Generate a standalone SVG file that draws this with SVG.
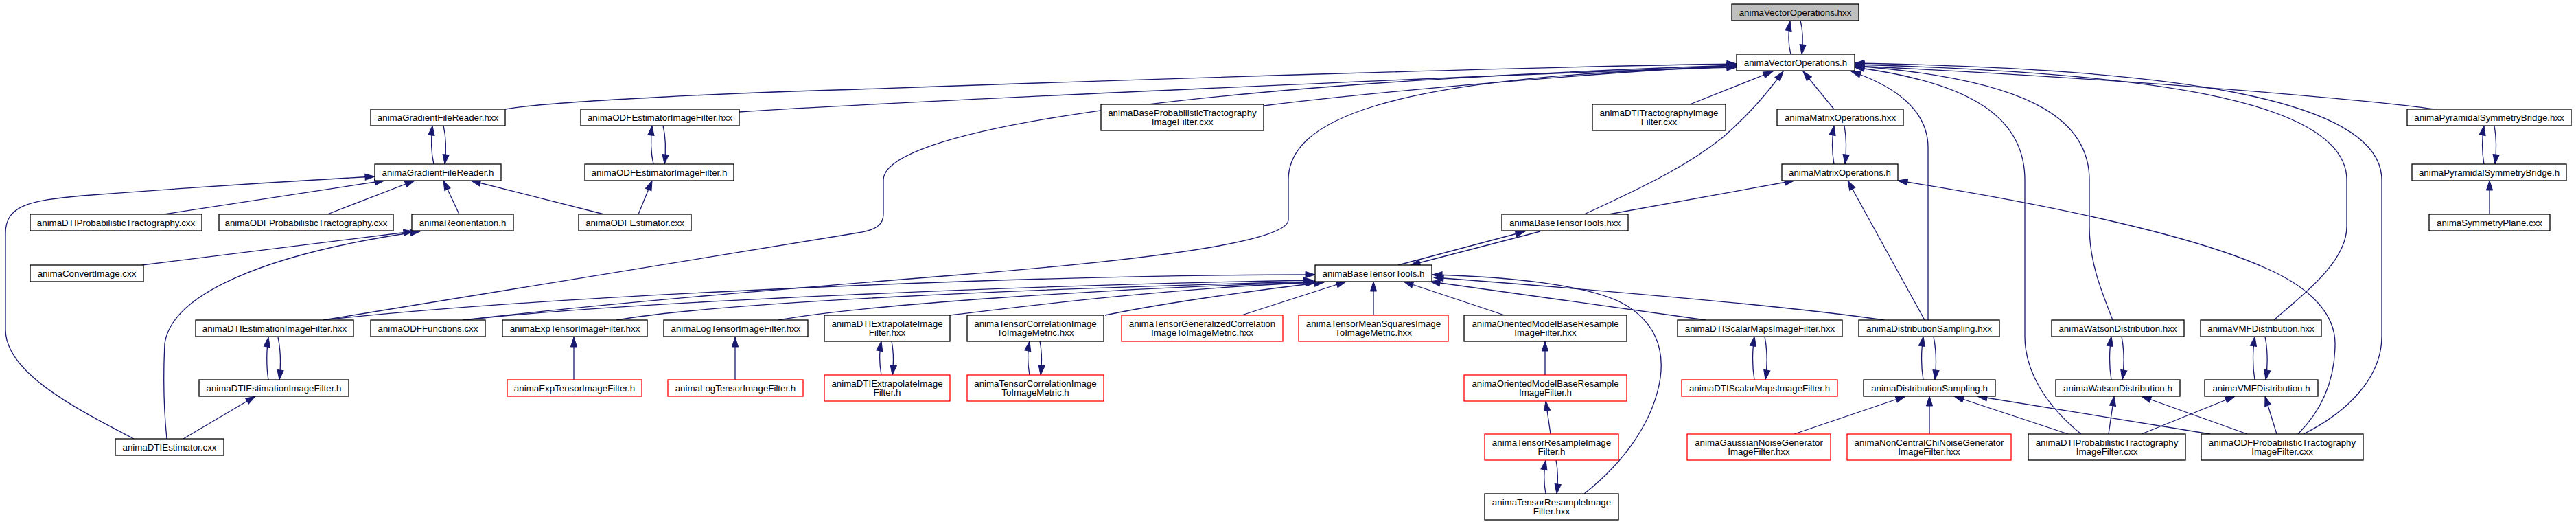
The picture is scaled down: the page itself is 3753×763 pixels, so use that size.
<svg xmlns="http://www.w3.org/2000/svg" width="3753" height="763" viewBox="0 0 3753 763">
<style>
.b{fill:#fff;stroke:#000;stroke-width:1.3}
.r{fill:#fff;stroke:#ff0000;stroke-width:1.3}
.g{fill:#bfbfbf;stroke:#000;stroke-width:1.3}
.t{font-family:"Liberation Sans",Arial,sans-serif;font-size:13.33px;text-anchor:middle;fill:#000}
.e path{fill:none;stroke:#191970;stroke-width:1.3;marker-end:url(#a)}
</style>
<defs>
<marker id="a" viewBox="0 0 14 10" refX="14" refY="5" markerWidth="14" markerHeight="10" markerUnits="userSpaceOnUse" orient="auto" overflow="visible"><path d="M0,0.4 L14,5 L0,9.6 Z" fill="#191970" stroke="#191970" stroke-width="1"/></marker>
</defs>
<rect width="3753" height="763" fill="#fff"/>
<g id="edges" class="e">
<path d="M2609,79 C2605,64 2605,48 2608,31"/>
<path d="M2623,30 C2627,45 2627,62 2625,79"/>
<path d="M736,159 C800,147 1100,134 1251,130 C1700,114 2250,97 2530,93"/>
<path d="M1077,163 C1300,148 2200,108 2530,97"/>
<path d="M1841,154 C2000,134 2300,108 2530,95"/>
<path d="M471,466 L1250,339 C1275,335 1287,328 1287,312 L1287,262 C1287,195 1650,125 2530,95"/>
<path d="M674,466 C900,440 1150,420 1400,400 C1700,376 1877,350 1877,320 L1877,262 C1877,180 2000,110 2530,98"/>
<path d="M2462,152 L2583,104"/>
<path d="M2308,312 C2400,270 2460,240 2510,200 C2550,165 2575,135 2598,104"/>
<path d="M2672,159 L2627,104"/>
<path d="M2809,466 L2809,215 C2809,160 2760,125 2697,104"/>
<path d="M3032,632 C2980,590 2950,540 2950,490 L2950,262 C2950,170 2870,120 2702,98"/>
<path d="M3078,466 C3060,420 3044,380 3044,330 L3044,262 C3044,170 2950,115 2702,96"/>
<path d="M3313,466 C3360,425 3419,380 3419,330 L3419,262 C3419,140 3100,105 2702,94"/>
<path d="M3356,632 C3420,600 3470,550 3470,490 L3470,262 C3470,140 3150,100 2702,92"/>
<path d="M3547,159 C3450,145 3100,115 2702,96"/>
<path d="M632,239 C628,222 628,200 630,183"/>
<path d="M646,183 C650,200 650,222 648,239"/>
<path d="M239,312 L560,263"/>
<path d="M477,312 L604,263"/>
<path d="M669,312 L646,263"/>
<path d="M880,312 L686,263"/>
<path d="M195,639 C100,590 8,540 8,480 L8,340 C8,300 40,292 120,285 C250,275 400,265 546,257"/>
<path d="M930,312 L950,263"/>
<path d="M952,239 C948,222 948,200 950,183"/>
<path d="M966,183 C970,200 970,222 968,239"/>
<path d="M207,386 L602,337"/>
<path d="M243,639 C238,590 238,540 240,500 C250,430 380,370 612,337"/>
<path d="M391,553 C388,535 388,510 391,491"/>
<path d="M405,491 C409,510 409,535 407,553"/>
<path d="M267,639 L372,577"/>
<path d="M836,553 L836,491"/>
<path d="M1071,553 L1071,491"/>
<path d="M1284,546 C1281,530 1281,512 1284,497"/>
<path d="M1299,497 C1302,512 1302,530 1300,546"/>
<path d="M1500,546 C1497,530 1497,512 1500,497"/>
<path d="M1515,497 C1518,512 1518,530 1516,546"/>
<path d="M2251,546 L2251,497"/>
<path d="M2259,632 L2252,584"/>
<path d="M2252,719 C2249,703 2249,686 2252,670"/>
<path d="M2267,670 C2270,686 2270,703 2268,719"/>
<path d="M2308,719 C2370,670 2410,610 2419,550 C2425,505 2410,470 2370,445 C2320,415 2200,403 2087,400"/>
<path d="M2556,553 C2553,535 2553,510 2556,490"/>
<path d="M2571,490 C2575,510 2575,535 2572,553"/>
<path d="M2802,553 C2799,535 2799,510 2802,490"/>
<path d="M2817,490 C2821,510 2821,535 2819,553"/>
<path d="M3076,553 C3073,535 3073,510 3076,490"/>
<path d="M3091,490 C3095,510 3095,535 3092,553"/>
<path d="M3285,553 C3282,535 3282,510 3285,490"/>
<path d="M3300,490 C3304,510 3304,535 3301,553"/>
<path d="M2614,632 L2776,577"/>
<path d="M2811,632 L2811,577"/>
<path d="M3013,632 L2847,577"/>
<path d="M3220,632 L2881,577"/>
<path d="M3072,632 L3080,577"/>
<path d="M3274,632 L3120,577"/>
<path d="M3120,632 L3256,577"/>
<path d="M3317,632 L3300,577"/>
<path d="M2672,239 C2669,222 2669,200 2672,183"/>
<path d="M2687,183 C2690,200 2690,222 2688,239"/>
<path d="M2344,312 L2614,263"/>
<path d="M2804,466 L2692,263"/>
<path d="M3348,632 C3385,595 3402,550 3402,500 C3402,460 3370,420 3300,390 C3200,345 3000,300 2765,263"/>
<path d="M3619,239 C3616,222 3616,200 3619,183"/>
<path d="M3634,183 C3637,200 3637,222 3635,239"/>
<path d="M3627,312 L3627,263"/>
<path d="M2037,386 L2222,337"/>
<path d="M2244,337 L2055,386"/>
<path d="M471,466 C800,430 1500,400 1916,400"/>
<path d="M678,466 C900,440 1500,415 1913,408"/>
<path d="M898,466 C1050,440 1500,420 1916,410"/>
<path d="M1134,466 C1250,445 1600,420 1917,411"/>
<path d="M1384,459 C1500,445 1700,420 1918,411"/>
<path d="M1610,459 C1700,440 1850,420 1929,411"/>
<path d="M1809,459 L1961,410"/>
<path d="M2001,459 L2001,410"/>
<path d="M2192,459 L2045,410"/>
<path d="M2485,466 L2084,410"/>
<path d="M2745,466 C2600,445 2300,420 2089,404"/>
</g>
<g id="n0"><rect class="g" x="2523" y="6" width="185" height="24"/><text class="t" x="2615.5" y="23">animaVectorOperations.hxx</text></g>
<g id="n1"><rect class="b" x="2530" y="79" width="172" height="24"/><text class="t" x="2616" y="96">animaVectorOperations.h</text></g>
<g id="n2"><rect class="b" x="540" y="159" width="196" height="24"/><text class="t" x="638" y="176">animaGradientFileReader.hxx</text></g>
<g id="n3"><rect class="b" x="846" y="159" width="231" height="24"/><text class="t" x="961.5" y="176">animaODFEstimatorImageFilter.hxx</text></g>
<g id="n4"><rect class="b" x="1604" y="152" width="237" height="38"/><text class="t" x="1722.5" y="168.5">animaBaseProbabilisticTractography</text><text class="t" x="1722.5" y="182">ImageFilter.cxx</text></g>
<g id="n5"><rect class="b" x="2320" y="152" width="194" height="38"/><text class="t" x="2417" y="168.5">animaDTITractographyImage</text><text class="t" x="2417" y="182">Filter.cxx</text></g>
<g id="n6"><rect class="b" x="2589" y="159" width="184" height="24"/><text class="t" x="2681" y="176">animaMatrixOperations.hxx</text></g>
<g id="n7"><rect class="b" x="3507" y="159" width="239" height="24"/><text class="t" x="3626.5" y="176">animaPyramidalSymmetryBridge.hxx</text></g>
<g id="n8"><rect class="b" x="546" y="239" width="184" height="24"/><text class="t" x="638" y="256">animaGradientFileReader.h</text></g>
<g id="n9"><rect class="b" x="852" y="239" width="217" height="24"/><text class="t" x="960.5" y="256">animaODFEstimatorImageFilter.h</text></g>
<g id="n10"><rect class="b" x="2596" y="239" width="169" height="24"/><text class="t" x="2680.5" y="256">animaMatrixOperations.h</text></g>
<g id="n11"><rect class="b" x="3514" y="239" width="225" height="24"/><text class="t" x="3626.5" y="256">animaPyramidalSymmetryBridge.h</text></g>
<g id="n12"><rect class="b" x="44" y="312" width="250" height="24"/><text class="t" x="169" y="329">animaDTIProbabilisticTractography.cxx</text></g>
<g id="n13"><rect class="b" x="319" y="312" width="254" height="24"/><text class="t" x="446" y="329">animaODFProbabilisticTractography.cxx</text></g>
<g id="n14"><rect class="b" x="600" y="312" width="148" height="24"/><text class="t" x="674" y="329">animaReorientation.h</text></g>
<g id="n15"><rect class="b" x="843" y="312" width="164" height="24"/><text class="t" x="925" y="329">animaODFEstimator.cxx</text></g>
<g id="n16"><rect class="b" x="2188" y="312" width="184" height="24"/><text class="t" x="2280" y="329">animaBaseTensorTools.hxx</text></g>
<g id="n17"><rect class="b" x="3539" y="312" width="176" height="24"/><text class="t" x="3627" y="329">animaSymmetryPlane.cxx</text></g>
<g id="n18"><rect class="b" x="44" y="386" width="165" height="24"/><text class="t" x="126.5" y="403">animaConvertImage.cxx</text></g>
<g id="n19"><rect class="b" x="1916" y="386" width="170" height="24"/><text class="t" x="2001" y="403">animaBaseTensorTools.h</text></g>
<g id="n20"><rect class="b" x="285" y="466" width="230" height="24"/><text class="t" x="400" y="483">animaDTIEstimationImageFilter.hxx</text></g>
<g id="n21"><rect class="b" x="540" y="466" width="167" height="24"/><text class="t" x="623.5" y="483">animaODFFunctions.cxx</text></g>
<g id="n22"><rect class="b" x="732" y="466" width="211" height="24"/><text class="t" x="837.5" y="483">animaExpTensorImageFilter.hxx</text></g>
<g id="n23"><rect class="b" x="967" y="466" width="210" height="24"/><text class="t" x="1072" y="483">animaLogTensorImageFilter.hxx</text></g>
<g id="n24"><rect class="b" x="1201" y="459" width="183" height="38"/><text class="t" x="1292.5" y="475.5">animaDTIExtrapolateImage</text><text class="t" x="1292.5" y="489">Filter.hxx</text></g>
<g id="n25"><rect class="b" x="1409" y="459" width="199" height="38"/><text class="t" x="1508.5" y="475.5">animaTensorCorrelationImage</text><text class="t" x="1508.5" y="489">ToImageMetric.hxx</text></g>
<g id="n26"><rect class="r" x="1634" y="459" width="235" height="38"/><text class="t" x="1751.5" y="475.5">animaTensorGeneralizedCorrelation</text><text class="t" x="1751.5" y="489">ImageToImageMetric.hxx</text></g>
<g id="n27"><rect class="r" x="1892" y="459" width="218" height="38"/><text class="t" x="2001" y="475.5">animaTensorMeanSquaresImage</text><text class="t" x="2001" y="489">ToImageMetric.hxx</text></g>
<g id="n28"><rect class="b" x="2133" y="459" width="237" height="38"/><text class="t" x="2251.5" y="475.5">animaOrientedModelBaseResample</text><text class="t" x="2251.5" y="489">ImageFilter.hxx</text></g>
<g id="n29"><rect class="b" x="2444" y="466" width="240" height="24"/><text class="t" x="2564" y="483">animaDTIScalarMapsImageFilter.hxx</text></g>
<g id="n30"><rect class="b" x="2708" y="466" width="205" height="24"/><text class="t" x="2810.5" y="483">animaDistributionSampling.hxx</text></g>
<g id="n31"><rect class="b" x="2989" y="466" width="193" height="24"/><text class="t" x="3085.5" y="483">animaWatsonDistribution.hxx</text></g>
<g id="n32"><rect class="b" x="3206" y="466" width="176" height="24"/><text class="t" x="3294" y="483">animaVMFDistribution.hxx</text></g>
<g id="n33"><rect class="b" x="290" y="553" width="218" height="24"/><text class="t" x="399" y="570">animaDTIEstimationImageFilter.h</text></g>
<g id="n34"><rect class="r" x="739" y="553" width="196" height="24"/><text class="t" x="837" y="570">animaExpTensorImageFilter.h</text></g>
<g id="n35"><rect class="r" x="973" y="553" width="197" height="24"/><text class="t" x="1071.5" y="570">animaLogTensorImageFilter.h</text></g>
<g id="n36"><rect class="r" x="1201" y="546" width="183" height="38"/><text class="t" x="1292.5" y="562.5">animaDTIExtrapolateImage</text><text class="t" x="1292.5" y="576">Filter.h</text></g>
<g id="n37"><rect class="r" x="1409" y="546" width="199" height="38"/><text class="t" x="1508.5" y="562.5">animaTensorCorrelationImage</text><text class="t" x="1508.5" y="576">ToImageMetric.h</text></g>
<g id="n38"><rect class="r" x="2133" y="546" width="237" height="38"/><text class="t" x="2251.5" y="562.5">animaOrientedModelBaseResample</text><text class="t" x="2251.5" y="576">ImageFilter.h</text></g>
<g id="n39"><rect class="r" x="2450" y="553" width="227" height="24"/><text class="t" x="2563.5" y="570">animaDTIScalarMapsImageFilter.h</text></g>
<g id="n40"><rect class="b" x="2715" y="553" width="192" height="24"/><text class="t" x="2811" y="570">animaDistributionSampling.h</text></g>
<g id="n41"><rect class="b" x="2995" y="553" width="181" height="24"/><text class="t" x="3085.5" y="570">animaWatsonDistribution.h</text></g>
<g id="n42"><rect class="b" x="3212" y="553" width="165" height="24"/><text class="t" x="3294.5" y="570">animaVMFDistribution.h</text></g>
<g id="n43"><rect class="b" x="168" y="639" width="158" height="24"/><text class="t" x="247" y="656">animaDTIEstimator.cxx</text></g>
<g id="n44"><rect class="r" x="2163" y="632" width="195" height="38"/><text class="t" x="2260.5" y="648.5">animaTensorResampleImage</text><text class="t" x="2260.5" y="662">Filter.h</text></g>
<g id="n45"><rect class="r" x="2458" y="632" width="209" height="38"/><text class="t" x="2562.5" y="648.5">animaGaussianNoiseGenerator</text><text class="t" x="2562.5" y="662">ImageFilter.hxx</text></g>
<g id="n46"><rect class="r" x="2691" y="632" width="239" height="38"/><text class="t" x="2810.5" y="648.5">animaNonCentralChiNoiseGenerator</text><text class="t" x="2810.5" y="662">ImageFilter.hxx</text></g>
<g id="n47"><rect class="b" x="2955" y="632" width="229" height="38"/><text class="t" x="3069.5" y="648.5">animaDTIProbabilisticTractography</text><text class="t" x="3069.5" y="662">ImageFilter.cxx</text></g>
<g id="n48"><rect class="b" x="3207" y="632" width="236" height="38"/><text class="t" x="3325" y="648.5">animaODFProbabilisticTractography</text><text class="t" x="3325" y="662">ImageFilter.cxx</text></g>
<g id="n49"><rect class="b" x="2163" y="719" width="195" height="38"/><text class="t" x="2260.5" y="735.5">animaTensorResampleImage</text><text class="t" x="2260.5" y="749">Filter.hxx</text></g>
</svg>
